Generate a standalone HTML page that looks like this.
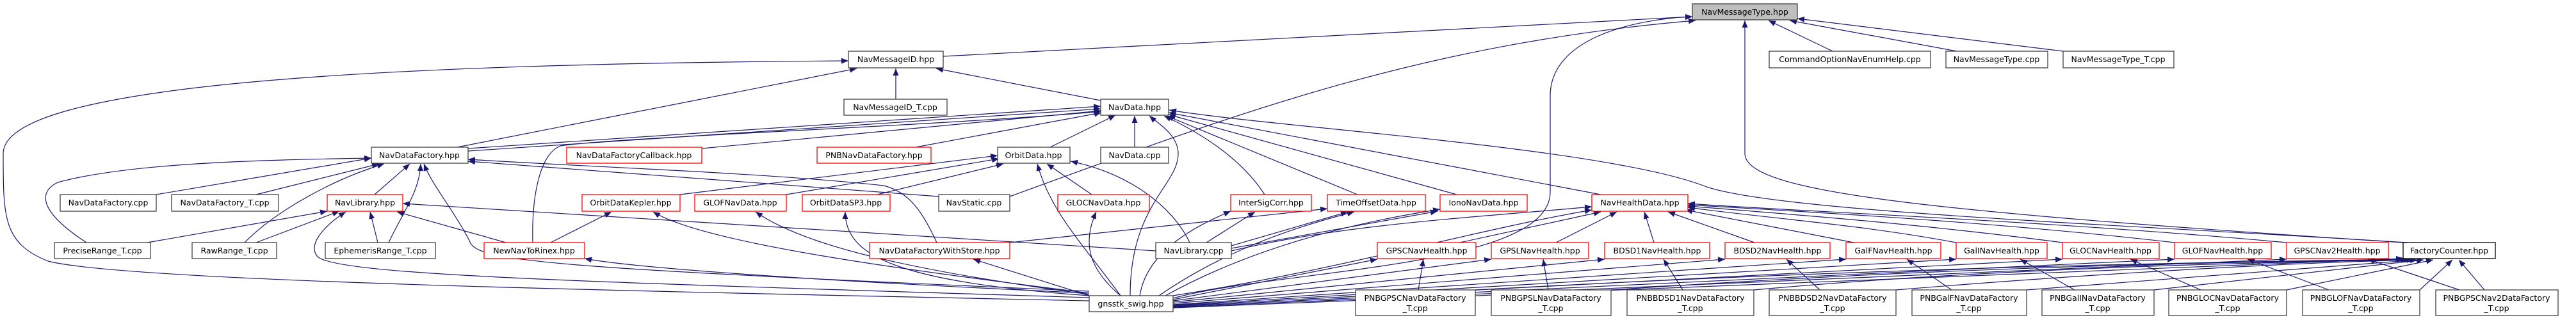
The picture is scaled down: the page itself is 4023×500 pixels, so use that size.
<!DOCTYPE html>
<html><head><meta charset="utf-8"><style>
html,body{margin:0;padding:0;background:#fff;}
svg{display:block;}
text{font-family:"DejaVu Sans","Liberation Sans",sans-serif;font-size:12.5px;fill:#000;text-anchor:middle;}
.e{fill:none;stroke:#191970;stroke-width:1.2;marker-end:url(#a);}
.n rect{fill:#fff;stroke:#404040;stroke-width:1.3;}
.r rect{fill:#fff;stroke:#ff0000;stroke-width:1.3;}
</style></head><body>
<svg width="4023" height="500" viewBox="0 0 4023 500" xmlns="http://www.w3.org/2000/svg">
<defs><marker id="a" markerWidth="11" markerHeight="9" refX="11" refY="4.5" orient="auto" markerUnits="userSpaceOnUse"><path d="M0,0 L11,4.5 L0,9z" fill="#191970"/></marker></defs>

<!-- edges to NavMessageType -->
<path class="e" d="M1473,88 L2643,26"/>
<path class="e" d="M2862,80 L2762,32"/>
<path class="e" d="M3056,80 L2795,32"/>
<path class="e" d="M3222,80 L2807,29"/>
<path class="e" d="M1577,307 C1900,190 2200,70 2648,32"/>
<path class="e" d="M3753,379 C3000,330 2725,300 2725,240 L2725,32"/>
<path class="e" d="M1832,466 C2000,420 2421,420 2421,300 L2421,150 C2421,60 2550,30 2643,26"/>
<!-- to NavMessageID -->
<path class="e" d="M1399,155 L1399,107"/>
<path class="e" d="M1719,157 L1462,107"/>
<path class="e" d="M714,230 L1338,107"/>
<path class="e" d="M1701,470 C1000,455 200,440 75,408 C5,380 5,340 5,240 C5,130 600,100 1325,95"/>
<!-- to NavData.hpp -->
<path class="e" d="M731,232 L1719,166"/>
<path class="e" d="M731,236 L1719,170"/>
<path class="e" d="M1096,232 L1719,173"/>
<path class="e" d="M1430,230 L1720,176"/>
<path class="e" d="M1640,230 L1742,180"/>
<path class="e" d="M1772,230 L1772,181"/>
<path class="e" d="M1765,462 C1765,320 1840,290 1840,240 C1840,210 1805,190 1795,181"/>
<path class="e" d="M1975,304 C1940,250 1880,210 1818,181"/>
<path class="e" d="M2120,304 L1822,181"/>
<path class="e" d="M2275,304 L1825,179"/>
<path class="e" d="M2500,304 L1825,176"/>
<path class="e" d="M3760,379 C3300,350 2760,330 2660,290 C2500,230 2000,200 1826,172"/>
<path class="e" d="M832,379 C830,300 845,240 875,228 C950,215 1500,195 1719,174"/>
<!-- to OrbitData -->
<path class="e" d="M1858,379 C1830,320 1760,270 1672,252"/>
<path class="e" d="M1062,304 L1558,243"/>
<path class="e" d="M1228,304 L1560,248"/>
<path class="e" d="M1370,304 L1567,256"/>
<path class="e" d="M1705,304 L1635,256"/>
<path class="e" d="M1750,462 C1690,380 1640,330 1620,256"/>
<!-- to NavDataFactory -->
<path class="e" d="M244,304 L580,247"/>
<path class="e" d="M400,304 L592,256"/>
<path class="e" d="M585,304 L640,256"/>
<path class="e" d="M135,379 C60,330 60,300 90,285 C200,255 400,250 580,247"/>
<path class="e" d="M382,379 C430,330 520,280 600,256"/>
<path class="e" d="M607,379 C630,330 655,300 657,256"/>
<path class="e" d="M1701,455 C900,420 750,410 735,380 C710,330 675,290 662,256"/>
<path class="e" d="M1463,379 C1440,330 1420,300 1380,290 C1200,270 900,260 731,249"/>
<path class="e" d="M1466,307 L731,252"/>
<!-- to NavLibrary.hpp -->
<path class="e" d="M1805,392 L629,318"/>
<path class="e" d="M230,379 L511,330"/>
<path class="e" d="M400,379 L530,330"/>
<path class="e" d="M590,379 L578,331"/>
<path class="e" d="M790,379 L620,331"/>
<path class="e" d="M1701,465 C900,440 520,430 495,400 C480,380 510,350 540,331"/>
<!-- NewNavToRinex, Kepler etc -->
<path class="e" d="M860,379 L955,331"/>
<path class="e" d="M1701,458 C1300,440 1000,420 913,404"/>
<path class="e" d="M1701,458 C1400,420 1100,380 1020,331"/>
<path class="e" d="M1701,460 C1400,420 1250,380 1180,331"/>
<path class="e" d="M1701,462 C1400,440 1320,400 1320,331"/>
<path class="e" d="M1750,462 C1700,420 1690,380 1712,331"/>
<path class="e" d="M1701,462 L1520,405"/>
<path class="e" d="M1780,462 C1790,400 1850,360 1922,330"/>
<path class="e" d="M1577,379 L2073,326"/>
<path class="e" d="M1884,379 L1960,331"/>
<path class="e" d="M1923,384 L2105,331"/>
<path class="e" d="M1923,388 L2245,330"/>
<path class="e" d="M1923,392 C2100,350 2300,340 2486,323"/>
<path class="e" d="M1810,462 C1900,400 2000,360 2115,331"/>
<path class="e" d="M1820,462 C1950,390 2100,350 2249,327"/>
<!-- NavHealthData children -->
<path class="e" d="M2280,379 L2500,331"/>
<path class="e" d="M2430,379 L2525,331"/>
<path class="e" d="M2583,379 L2568,331"/>
<path class="e" d="M2740,379 L2605,331"/>
<path class="e" d="M2895,379 L2632,328"/>
<path class="e" d="M3055,379 C2900,350 2750,340 2636,324"/>
<path class="e" d="M3221,379 C3000,350 2800,335 2636,322"/>
<path class="e" d="M3396,379 C3100,345 2800,330 2636,320"/>
<path class="e" d="M3571,379 C3200,345 2800,330 2636,318"/>
<path class="e" d="M1832,462 C2100,420 2300,360 2486,328"/>
<!-- swig to health boxes -->
<path class="e" d="M1832,468 L2151,405"/>
<path class="e" d="M1832,470 L2329,405"/>
<path class="e" d="M1832,472 L2506,405"/>
<path class="e" d="M1832,474 L2694,405"/>
<path class="e" d="M1832,476 L2883,405"/>
<path class="e" d="M1832,477 L3055,405"/>
<path class="e" d="M1832,478 L3221,405"/>
<path class="e" d="M1832,479 L3396,405"/>
<path class="e" d="M1832,480 L3571,405"/>
<path class="e" d="M1832,481 L3753,404"/>
<!-- PNB factories -->
<path class="e" d="M2215,453 L2223,405"/>
<path class="e" d="M2418,453 L2410,405"/>
<path class="e" d="M2628,453 L2598,405"/>
<path class="e" d="M2842,453 L2790,405"/>
<path class="e" d="M3048,453 L2978,405"/>
<path class="e" d="M3240,453 L3155,405"/>
<path class="e" d="M3437,453 L3327,405"/>
<path class="e" d="M3637,453 L3510,405"/>
<path class="e" d="M3841,453 L3698,405"/>
<path class="e" d="M2304,453 C2900,420 3400,410 3755,405"/>
<path class="e" d="M2516,453 C3000,420 3400,410 3760,406"/>
<path class="e" d="M2739,453 C3100,420 3500,410 3765,406"/>
<path class="e" d="M2961,453 C3300,425 3600,410 3770,406"/>
<path class="e" d="M3165,453 L3775,406"/>
<path class="e" d="M3364,453 L3785,406"/>
<path class="e" d="M3571,453 L3800,406"/>
<path class="e" d="M3779,453 L3830,406"/>
<path class="e" d="M3880,453 L3840,406"/>

<!-- nodes -->
<g class="n"><rect x="2643" y="6" width="164" height="25" style="fill:#bfbfbf"/><text x="2725" y="23">NavMessageType.hpp</text></g>
<g class="n"><rect x="1325" y="80" width="148" height="26"/><text x="1399" y="97">NavMessageID.hpp</text></g>
<g class="n"><rect x="2763" y="80" width="252" height="26"/><text x="2889" y="97">CommandOptionNavEnumHelp.cpp</text></g>
<g class="n"><rect x="3039" y="80" width="159" height="26"/><text x="3118" y="97">NavMessageType.cpp</text></g>
<g class="n"><rect x="3222" y="80" width="173" height="26"/><text x="3308" y="97">NavMessageType_T.cpp</text></g>
<g class="n"><rect x="1318" y="155" width="161" height="25"/><text x="1398" y="172">NavMessageID_T.cpp</text></g>
<g class="n"><rect x="1719" y="155" width="106" height="25"/><text x="1772" y="172">NavData.hpp</text></g>
<g class="n"><rect x="580" y="230" width="151" height="25"/><text x="655" y="247">NavDataFactory.hpp</text></g>
<g class="r"><rect x="885" y="230" width="211" height="25"/><text x="990" y="247">NavDataFactoryCallback.hpp</text></g>
<g class="r"><rect x="1276" y="230" width="178" height="25"/><text x="1365" y="247">PNBNavDataFactory.hpp</text></g>
<g class="n"><rect x="1558" y="230" width="113" height="25"/><text x="1614" y="247">OrbitData.hpp</text></g>
<g class="n"><rect x="1719" y="230" width="106" height="25"/><text x="1772" y="247">NavData.cpp</text></g>
<g class="n"><rect x="94" y="304" width="150" height="26"/><text x="169" y="321">NavDataFactory.cpp</text></g>
<g class="n"><rect x="268" y="304" width="167" height="26"/><text x="351" y="321">NavDataFactory_T.cpp</text></g>
<g class="r"><rect x="511" y="304" width="118" height="26"/><text x="570" y="321">NavLibrary.hpp</text></g>
<g class="r"><rect x="909" y="304" width="153" height="26"/><text x="985" y="321">OrbitDataKepler.hpp</text></g>
<g class="r"><rect x="1085" y="304" width="143" height="26"/><text x="1156" y="321">GLOFNavData.hpp</text></g>
<g class="r"><rect x="1253" y="304" width="137" height="26"/><text x="1321" y="321">OrbitDataSP3.hpp</text></g>
<g class="n"><rect x="1466" y="304" width="111" height="26"/><text x="1521" y="321">NavStatic.cpp</text></g>
<g class="r"><rect x="1652" y="304" width="143" height="26"/><text x="1723" y="321">GLOCNavData.hpp</text></g>
<g class="r"><rect x="1922" y="304" width="126" height="26"/><text x="1985" y="321">InterSigCorr.hpp</text></g>
<g class="r"><rect x="2073" y="304" width="153" height="26"/><text x="2149" y="321">TimeOffsetData.hpp</text></g>
<g class="r"><rect x="2249" y="304" width="136" height="26"/><text x="2317" y="321">IonoNavData.hpp</text></g>
<g class="r"><rect x="2486" y="304" width="150" height="26"/><text x="2561" y="321">NavHealthData.hpp</text></g>
<g class="n"><rect x="85" y="379" width="150" height="25"/><text x="160" y="396">PreciseRange_T.cpp</text></g>
<g class="n"><rect x="300" y="379" width="132" height="25"/><text x="366" y="396">RawRange_T.cpp</text></g>
<g class="n"><rect x="508" y="379" width="172" height="25"/><text x="594" y="396">EphemerisRange_T.cpp</text></g>
<g class="r"><rect x="756" y="379" width="157" height="25"/><text x="834" y="396">NewNavToRinex.hpp</text></g>
<g class="r"><rect x="1358" y="379" width="219" height="25"/><text x="1467" y="396">NavDataFactoryWithStore.hpp</text></g>
<g class="n"><rect x="1805" y="379" width="118" height="25"/><text x="1864" y="396">NavLibrary.cpp</text></g>
<g class="r"><rect x="2151" y="379" width="154" height="25"/><text x="2228" y="396">GPSCNavHealth.hpp</text></g>
<g class="r"><rect x="2329" y="379" width="152" height="25"/><text x="2405" y="396">GPSLNavHealth.hpp</text></g>
<g class="r"><rect x="2506" y="379" width="164" height="25"/><text x="2588" y="396">BDSD1NavHealth.hpp</text></g>
<g class="r"><rect x="2694" y="379" width="164" height="25"/><text x="2776" y="396">BDSD2NavHealth.hpp</text></g>
<g class="r"><rect x="2883" y="379" width="148" height="25"/><text x="2957" y="396">GalFNavHealth.hpp</text></g>
<g class="r"><rect x="3055" y="379" width="142" height="25"/><text x="3126" y="396">GalINavHealth.hpp</text></g>
<g class="r"><rect x="3221" y="379" width="151" height="25"/><text x="3296" y="396">GLOCNavHealth.hpp</text></g>
<g class="r"><rect x="3396" y="379" width="151" height="25"/><text x="3471" y="396">GLOFNavHealth.hpp</text></g>
<g class="r"><rect x="3571" y="379" width="159" height="25"/><text x="3650" y="396">GPSCNav2Health.hpp</text></g>
<g class="n"><rect x="3753" y="379" width="144" height="25" style="stroke:#000"/><text x="3825" y="396">FactoryCounter.hpp</text></g>
<g class="n"><rect x="1701" y="462" width="131" height="25"/><text x="1766" y="479">gnsstk_swig.hpp</text></g>
<g class="n"><rect x="2117" y="453" width="187" height="40"/><text x="2210" y="470">PNBGPSCNavDataFactory</text><text x="2210" y="486">_T.cpp</text></g>
<g class="n"><rect x="2329" y="453" width="187" height="40"/><text x="2422" y="470">PNBGPSLNavDataFactory</text><text x="2422" y="486">_T.cpp</text></g>
<g class="n"><rect x="2541" y="453" width="198" height="40"/><text x="2640" y="470">PNBBDSD1NavDataFactory</text><text x="2640" y="486">_T.cpp</text></g>
<g class="n"><rect x="2763" y="453" width="198" height="40"/><text x="2862" y="470">PNBBDSD2NavDataFactory</text><text x="2862" y="486">_T.cpp</text></g>
<g class="n"><rect x="2986" y="453" width="179" height="40"/><text x="3075" y="470">PNBGalFNavDataFactory</text><text x="3075" y="486">_T.cpp</text></g>
<g class="n"><rect x="3189" y="453" width="175" height="40"/><text x="3276" y="470">PNBGalINavDataFactory</text><text x="3276" y="486">_T.cpp</text></g>
<g class="n"><rect x="3387" y="453" width="184" height="40"/><text x="3479" y="470">PNBGLOCNavDataFactory</text><text x="3479" y="486">_T.cpp</text></g>
<g class="n"><rect x="3596" y="453" width="183" height="40"/><text x="3687" y="470">PNBGLOFNavDataFactory</text><text x="3687" y="486">_T.cpp</text></g>
<g class="n"><rect x="3804" y="453" width="191" height="40"/><text x="3899" y="470">PNBGPSCNav2DataFactory</text><text x="3899" y="486">_T.cpp</text></g>
</svg>
</body></html>
